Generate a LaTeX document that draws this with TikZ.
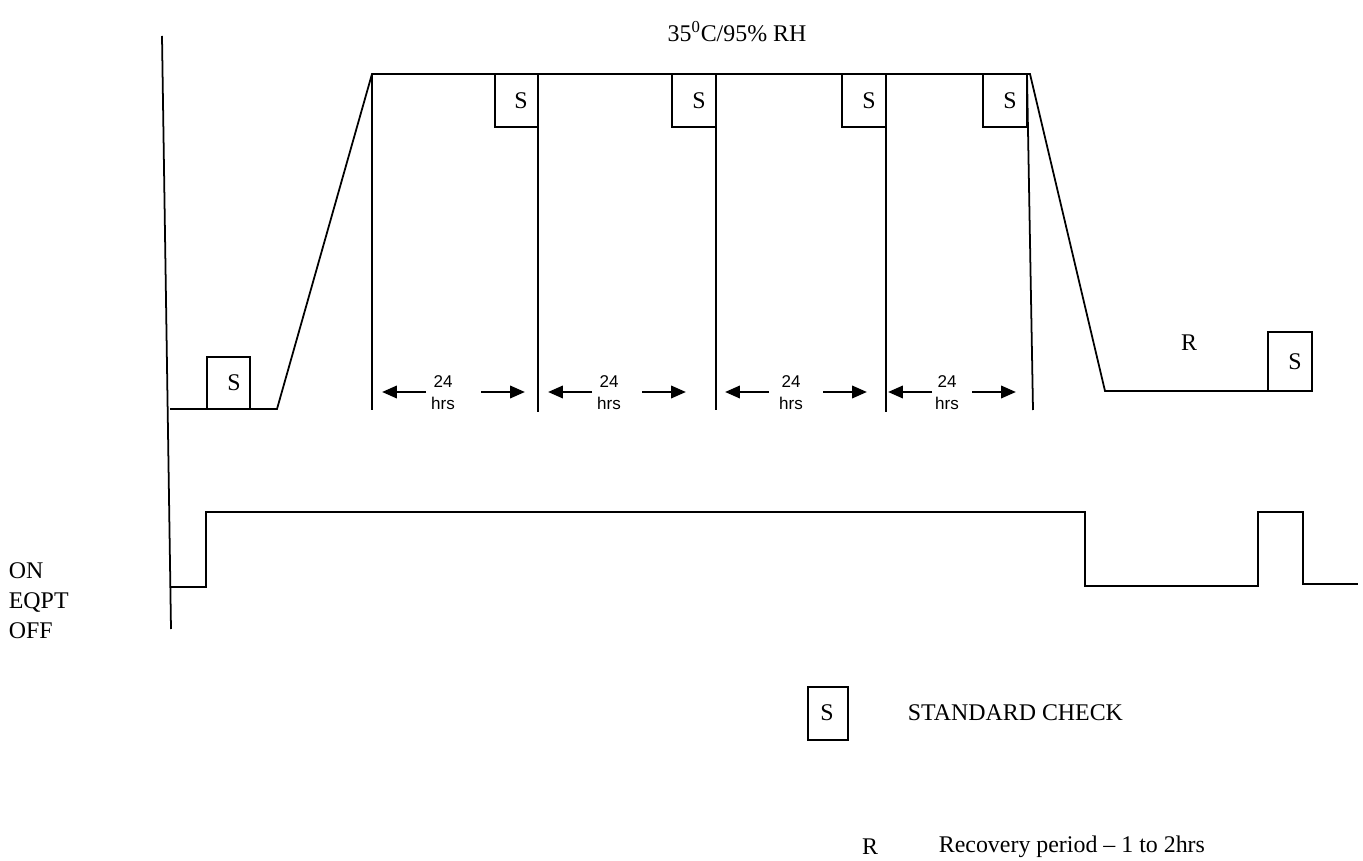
\documentclass[tikz,border=0pt]{standalone}
\usepackage{fontspec}
\setmainfont{Liberation Serif}
\newfontfamily\arialfont{Liberation Sans}
\usetikzlibrary{arrows.meta}

\begin{document}
\begin{tikzpicture}[x=0.02cm, y=-0.02cm, line width=1pt,
    txt/.style={font=\fontsize{13.6}{17}\selectfont, inner sep=0pt},
    hrs/.style={font=\arialfont\fontsize{9.7}{12.5}\selectfont, align=center, inner sep=0pt},
    dur/.style={-{Triangle[length=8.5pt, width=7pt]}, line width=1.5pt},
]
\useasboundingbox (0,0) rectangle (1363,861);

% Title
\node[txt] (title) at (737,32) {35\textsuperscript{0}C/95\% RH};

% Left axis
\draw (162,36) -- (171,629);

% Humidity profile
\draw (170,409) -- (277,409) -- (372,74) -- (1030,74) -- (1105,391) -- (1268,391);

% Day separators
\draw (372,74) -- (372,410);
\draw (538,74) -- (538,412);
\draw (716,74) -- (716,410);
\draw (886,74) -- (886,412);
\draw (1027,74) -- (1033,410);

% Standard check boxes
\draw (207,357) rectangle (250,409);
\draw (495,74) rectangle (538,127);
\draw (672,74) rectangle (716,127);
\draw (842,74) rectangle (886,127);
\draw (983,74) rectangle (1027,127);
\draw (1268,332) rectangle (1312,391);
\node[txt] (s0) at (234,383) {S};
\node[txt] (s1) at (521,101) {S};
\node[txt] (s2) at (699,101) {S};
\node[txt] (s3) at (869,101) {S};
\node[txt] (s4) at (1010,101) {S};
\node[txt] (s5) at (1295,362) {S};

% Recovery label
\node[txt] (rec) at (1189,343) {R};

% 24 hrs spans
\node[hrs] (h1) at (443,393) {24\\hrs};
\node[hrs] (h2) at (609,393) {24\\hrs};
\node[hrs] (h3) at (791,393) {24\\hrs};
\node[hrs] (h4) at (947,393) {24\\hrs};
\coordinate (a1) at (426,392); \coordinate (l1) at (382,392);
\coordinate (b1) at (481,392); \coordinate (r1) at (525,392);
\coordinate (a2) at (592,392); \coordinate (l2) at (548,392);
\coordinate (b2) at (642,392); \coordinate (r2) at (686,392);
\coordinate (a3) at (769,392); \coordinate (l3) at (725,392);
\coordinate (b3) at (823,392); \coordinate (r3) at (867,392);
\coordinate (a4) at (932,392); \coordinate (l4) at (888,392);
\coordinate (b4) at (972,392); \coordinate (r4) at (1016,392);
\draw[dur] (a1) -- (l1); \draw[dur] (b1) -- (r1);
\draw[dur] (a2) -- (l2); \draw[dur] (b2) -- (r2);
\draw[dur] (a3) -- (l3); \draw[dur] (b3) -- (r3);
\draw[dur] (a4) -- (l4); \draw[dur] (b4) -- (r4);

% Equipment on/off
\node[txt, anchor=west, align=left] (eqpt) at (8,601) {ON\\EQPT\\OFF};
\draw (171,587) -- (206,587) -- (206,512) -- (1085,512) -- (1085,586)
      -- (1258,586) -- (1258,512) -- (1303,512) -- (1303,584) -- (1358,584);

% Legend
\draw (808,687) rectangle (848,740);
\node[txt] (ls) at (827,713) {S};
\node[txt, anchor=west] (lstd) at (907,713) {STANDARD CHECK};
\node[txt] (lr) at (870,847) {R};
\node[txt, anchor=west] (lrec) at (938,847) {Recovery period -- 1 to 2hrs};
\end{tikzpicture}
\end{document}
